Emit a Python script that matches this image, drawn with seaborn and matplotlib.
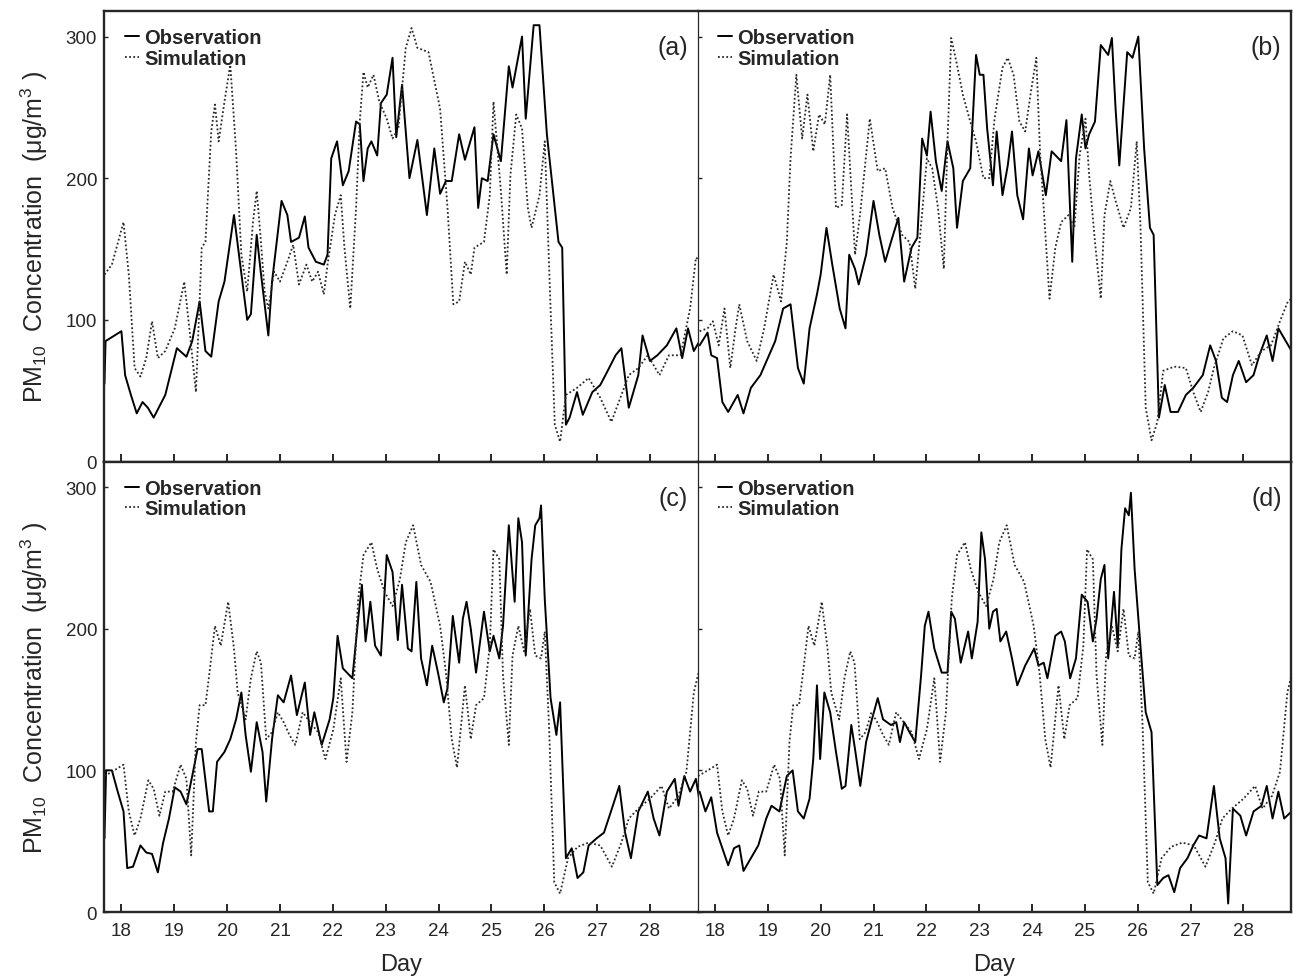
import pandas as pd
import numpy as np
import seaborn as sns
import matplotlib.pyplot as plt

# ---- data (day of month, PM10 in ug/m3) ----
day_a_obs = [17.68, 17.70, 18.0, 18.07, 18.18, 18.29, 18.4, 18.5, 18.61, 18.83, 19.05, 19.23, 19.34, 19.48, 19.59, 19.7,
             19.84, 19.95, 20.13, 20.38, 20.45, 20.56, 20.63, 20.78, 20.85, 21.03, 21.14, 21.21, 21.36, 21.47, 21.54,
             21.68, 21.83, 21.9, 21.97, 22.08, 22.19, 22.3, 22.44, 22.51, 22.58, 22.66, 22.73, 22.84, 22.91, 23.02,
             23.13, 23.2, 23.31, 23.45, 23.6, 23.78, 23.92, 24.03, 24.14, 24.25, 24.39, 24.5, 24.68, 24.75, 24.82,
             24.93, 25.04, 25.18, 25.33, 25.4, 25.47, 25.58, 25.65, 25.8, 25.91, 26.05, 26.27, 26.34, 26.41, 26.48,
             26.62, 26.73, 26.91, 27.06, 27.2, 27.35, 27.46, 27.6, 27.78, 27.86, 28.0, 28.14, 28.32, 28.5, 28.61,
             28.72, 28.83, 28.97]
pm_a_obs = [55, 85, 92, 61, 47, 34, 42, 38, 31, 47, 80, 74, 85, 113, 78, 74,
            113, 127, 174, 100, 104, 160, 136, 89, 127, 184, 174, 155, 158, 173, 151,
            141, 139, 146, 214, 226, 195, 205, 240, 238, 198, 221, 226, 216, 253, 259,
            285, 229, 266, 200, 227, 174, 221, 189, 198, 198, 231, 213, 236, 179, 200,
            198, 231, 212, 279, 264, 278, 300, 242, 308, 308, 231, 155, 151, 26, 31,
            49, 33, 49, 54, 64, 75, 80, 38, 61, 89, 71, 75, 82, 94, 73,
            94, 78, 87]

day_a_sim = [17.68, 17.82, 18.04, 18.14, 18.25, 18.36, 18.47, 18.58, 18.69, 18.83, 19.01, 19.19, 19.3, 19.41, 19.52,
             19.59, 19.7, 19.77, 19.84, 19.95, 20.06, 20.17, 20.27, 20.38, 20.49, 20.56, 20.63, 20.71, 20.78, 20.89,
             21.0, 21.14, 21.25, 21.36, 21.5, 21.61, 21.72, 21.83, 21.9, 22.04, 22.15, 22.22, 22.33, 22.44, 22.51,
             22.58, 22.66, 22.77, 22.88, 23.02, 23.13, 23.24, 23.38, 23.49, 23.6, 23.81, 24.03, 24.17, 24.28, 24.39,
             24.5, 24.61, 24.68, 24.86, 24.97, 25.04, 25.18, 25.29, 25.36, 25.47, 25.58, 25.69, 25.76, 25.91, 26.01,
             26.12, 26.2, 26.3, 26.41, 26.62, 26.84, 27.06, 27.27, 27.46, 27.6, 27.78, 27.96, 28.18, 28.36, 28.58,
             28.76, 28.87, 28.97]
pm_a_sim = [132, 139, 169, 132, 66, 60, 73, 99, 73, 78, 94, 127, 89, 49, 151,
            155, 233, 252, 226, 254, 280, 219, 146, 120, 169, 191, 160, 120, 108, 134,
            127, 141, 153, 125, 139, 127, 134, 118, 139, 174, 188, 151, 108, 179, 240,
            275, 264, 273, 254, 242, 228, 235, 292, 306, 292, 289, 249, 179, 111, 113,
            141, 132, 151, 155, 188, 254, 191, 132, 202, 245, 235, 179, 165, 188, 226,
            108, 26, 14, 47, 52, 59, 45, 28, 47, 61, 66, 75, 61, 75, 75,
            108, 144, 141]

day_b_obs = [17.71, 17.86, 17.93, 18.04, 18.14, 18.25, 18.43, 18.54, 18.68, 18.86, 19.0, 19.14, 19.29, 19.43, 19.57,
             19.68, 19.79, 19.93, 20.0, 20.11, 20.22, 20.36, 20.47, 20.54, 20.65, 20.72, 20.86, 21.0, 21.11, 21.22,
             21.33, 21.47, 21.58, 21.72, 21.83, 21.92, 22.01, 22.08, 22.18, 22.29, 22.4, 22.51, 22.58, 22.69, 22.83,
             22.94, 23.01, 23.08, 23.15, 23.26, 23.33, 23.44, 23.54, 23.62, 23.72, 23.83, 23.94, 24.01, 24.12, 24.26,
             24.37, 24.55, 24.65, 24.76, 24.83, 24.94, 25.01, 25.08, 25.19, 25.3, 25.44, 25.51, 25.58, 25.65, 25.8,
             25.9, 26.01, 26.12, 26.23, 26.3, 26.4, 26.51, 26.62, 26.76, 26.91, 27.05, 27.23, 27.37, 27.48, 27.59,
             27.69, 27.8, 27.91, 28.05, 28.19, 28.3, 28.44, 28.55, 28.66, 28.8, 28.91]
pm_b_obs = [82, 91, 75, 73, 42, 35, 47, 34, 52, 61, 73, 85, 108, 111, 66,
            55, 94, 118, 132, 165, 139, 108, 94, 146, 136, 125, 146, 184, 160, 141,
            155, 172, 127, 151, 158, 228, 216, 247, 212, 191, 226, 207, 165, 198, 207,
            287, 273, 273, 235, 195, 233, 188, 209, 233, 188, 171, 221, 202, 219, 188,
            219, 212, 241, 141, 214, 245, 221, 231, 240, 294, 287, 299, 249, 209, 289,
            285, 300, 221, 165, 160, 31, 54, 35, 35, 47, 52, 61, 82, 71, 45,
            42, 61, 71, 56, 61, 75, 89, 71, 94, 85, 78]

day_b_sim = [17.71, 17.86, 17.96, 18.07, 18.18, 18.29, 18.39, 18.46, 18.61, 18.79, 18.93, 19.11, 19.25, 19.36, 19.43,
             19.54, 19.65, 19.75, 19.86, 19.97, 20.08, 20.18, 20.29, 20.4, 20.5, 20.65, 20.75, 20.93, 21.08, 21.22,
             21.36, 21.54, 21.68, 21.79, 21.9, 22.01, 22.11, 22.22, 22.33, 22.4, 22.47, 22.58, 22.69, 22.83, 22.94,
             23.08, 23.19, 23.29, 23.44, 23.54, 23.65, 23.76, 23.87, 23.97, 24.08, 24.15, 24.22, 24.33, 24.44, 24.55,
             24.69, 24.8, 24.9, 25.01, 25.08, 25.19, 25.3, 25.37, 25.48, 25.58, 25.73, 25.87, 25.98, 26.05, 26.15,
             26.26, 26.37, 26.48, 26.69, 26.91, 27.05, 27.19, 27.33, 27.44, 27.62, 27.8, 27.98, 28.16, 28.34, 28.52,
             28.69, 28.84, 28.91]
pm_b_sim = [92, 94, 99, 82, 108, 66, 94, 111, 85, 71, 94, 132, 113, 155, 214,
            273, 228, 259, 219, 245, 238, 273, 179, 181, 245, 146, 176, 242, 205, 207,
            179, 160, 155, 122, 167, 214, 207, 179, 136, 226, 299, 280, 259, 240, 226,
            200, 200, 242, 278, 285, 273, 240, 233, 259, 285, 219, 179, 115, 151, 169,
            174, 165, 216, 242, 202, 155, 115, 174, 198, 184, 165, 179, 226, 167, 38,
            15, 28, 64, 67, 66, 49, 35, 49, 66, 87, 92, 89, 68, 78, 82,
            99, 113, 115]

day_c_obs = [17.68, 17.71, 17.82, 17.93, 18.04, 18.11, 18.22, 18.36, 18.47, 18.58, 18.69, 18.79, 18.9, 19.01, 19.12,
             19.23, 19.34, 19.44, 19.52, 19.66, 19.73, 19.81, 19.95, 20.06, 20.17, 20.27, 20.35, 20.45, 20.56, 20.67,
             20.74, 20.85, 20.96, 21.07, 21.21, 21.32, 21.47, 21.57, 21.65, 21.79, 21.94, 22.01, 22.09, 22.19, 22.37,
             22.48, 22.55, 22.62, 22.71, 22.8, 22.91, 23.02, 23.13, 23.23, 23.31, 23.42, 23.49, 23.58, 23.67, 23.78,
             23.88, 23.99, 24.1, 24.17, 24.27, 24.39, 24.46, 24.53, 24.61, 24.71, 24.86, 24.97, 25.04, 25.15, 25.22,
             25.33, 25.44, 25.51, 25.58, 25.65, 25.76, 25.83, 25.91, 25.94, 26.01, 26.12, 26.23, 26.3, 26.41, 26.52,
             26.63, 26.74, 26.84, 26.99, 27.13, 27.28, 27.42, 27.53, 27.64, 27.78, 27.96, 28.07, 28.18, 28.32, 28.47,
             28.54, 28.65, 28.76, 28.87, 28.97]
pm_c_obs = [52, 100, 100, 85, 71, 31, 32, 47, 42, 41, 28, 49, 66, 88, 85,
            76, 96, 115, 115, 71, 71, 106, 113, 122, 136, 155, 125, 99, 134, 113,
            78, 122, 153, 148, 167, 139, 162, 125, 141, 118, 136, 151, 195, 172, 165,
            207, 231, 191, 219, 188, 181, 252, 240, 192, 231, 186, 184, 233, 179, 160,
            188, 169, 148, 158, 209, 176, 207, 219, 200, 169, 212, 184, 195, 179, 202,
            273, 219, 278, 261, 181, 249, 273, 278, 287, 221, 151, 125, 148, 38, 45,
            24, 28, 47, 52, 56, 73, 89, 56, 38, 71, 85, 66, 54, 85, 94,
            75, 96, 85, 94, 71]

# the simulated series is the same in panels (c) and (d)
day_cd_sim = [17.68, 17.82, 18.04, 18.14, 18.25, 18.36, 18.51, 18.61, 18.72, 18.83, 18.97, 19.12, 19.23, 19.32, 19.41,
              19.48, 19.59, 19.66, 19.77, 19.88, 20.02, 20.13, 20.2, 20.35, 20.45, 20.56, 20.64, 20.74, 20.85, 20.96,
              21.07, 21.18, 21.29, 21.43, 21.57, 21.72, 21.86, 22.01, 22.15, 22.26, 22.37, 22.48, 22.58, 22.73, 22.84,
              22.98, 23.13, 23.27, 23.38, 23.52, 23.67, 23.85, 24.03, 24.14, 24.25, 24.35, 24.5, 24.61, 24.71, 24.86,
              24.97, 25.04, 25.15, 25.22, 25.33, 25.4, 25.51, 25.62, 25.73, 25.83, 25.94, 26.01, 26.09, 26.19, 26.3,
              26.45, 26.63, 26.84, 27.06, 27.28, 27.46, 27.6, 27.78, 28.0, 28.22, 28.36, 28.54, 28.69, 28.83, 28.94,
              29.0]
pm_cd_sim = [96, 99, 104, 71, 54, 66, 93, 87, 68, 85, 85, 104, 94, 40, 120,
             146, 146, 167, 202, 188, 219, 186, 155, 136, 165, 184, 176, 122, 127, 141,
             134, 125, 118, 141, 134, 127, 108, 129, 165, 106, 141, 221, 252, 261, 242,
             226, 216, 235, 261, 273, 245, 233, 202, 169, 122, 102, 160, 122, 146, 151,
             188, 256, 249, 167, 118, 181, 202, 184, 214, 181, 179, 198, 132, 21, 13,
             38, 46, 49, 47, 32, 49, 66, 73, 80, 89, 73, 82, 99, 155, 172,
             169]

day_d_obs = [17.71, 17.82, 17.93, 18.04, 18.14, 18.25, 18.36, 18.46, 18.54, 18.68, 18.82, 18.97, 19.07, 19.22, 19.36,
             19.47, 19.57, 19.68, 19.79, 19.86, 19.93, 19.99, 20.07, 20.18, 20.29, 20.4, 20.47, 20.58, 20.65, 20.75,
             20.86, 20.97, 21.08, 21.18, 21.33, 21.43, 21.5, 21.58, 21.68, 21.79, 21.9, 21.97, 22.04, 22.15, 22.29,
             22.4, 22.47, 22.54, 22.65, 22.79, 22.86, 22.97, 23.04, 23.11, 23.19, 23.26, 23.33, 23.4, 23.51, 23.62,
             23.72, 23.87, 24.04, 24.12, 24.22, 24.29, 24.44, 24.55, 24.62, 24.72, 24.83, 24.94, 25.05, 25.15, 25.22,
             25.3, 25.37, 25.44, 25.55, 25.62, 25.69, 25.76, 25.83, 25.87, 25.94, 26.05, 26.15, 26.26, 26.37, 26.48,
             26.58, 26.69, 26.8, 26.94, 27.05, 27.16, 27.3, 27.44, 27.55, 27.66, 27.71, 27.8, 27.94, 28.05, 28.19,
             28.34, 28.44, 28.55, 28.66, 28.77, 28.91]
pm_d_obs = [85, 71, 81, 56, 45, 33, 45, 47, 29, 38, 47, 66, 75, 71, 96,
            100, 71, 66, 80, 108, 160, 108, 155, 141, 113, 87, 89, 132, 115, 89,
            120, 136, 151, 136, 132, 134, 120, 134, 127, 120, 167, 202, 212, 186, 169,
            169, 212, 207, 176, 198, 179, 205, 268, 249, 200, 212, 214, 191, 198, 179,
            160, 174, 186, 174, 176, 165, 195, 198, 191, 165, 179, 224, 219, 191, 207,
            235, 245, 179, 226, 188, 256, 285, 280, 296, 242, 188, 141, 127, 19, 24,
            26, 14, 31, 38, 47, 54, 52, 89, 52, 38, 6, 73, 68, 54, 71,
            75, 89, 66, 85, 66, 71]

panels = [
    ("(a)", day_a_obs, pm_a_obs, day_a_sim, pm_a_sim),
    ("(b)", day_b_obs, pm_b_obs, day_b_sim, pm_b_sim),
    ("(c)", day_c_obs, pm_c_obs, day_cd_sim, pm_cd_sim),
    ("(d)", day_d_obs, pm_d_obs, day_cd_sim, pm_cd_sim),
]

sns.set_style("ticks")
plt.rcParams['font.family'] = ['Liberation Sans', 'DejaVu Sans']
plt.rcParams['mathtext.fontset'] = 'custom'
plt.rcParams['mathtext.rm'] = 'Liberation Sans'
plt.rcParams['mathtext.it'] = 'Liberation Sans'

fig, axes = plt.subplots(2, 2, figsize=(12.93, 9.79), dpi=100, sharex=True, sharey=True,
                         gridspec_kw=dict(wspace=0, hspace=0))
fig.subplots_adjust(left=0.0804, right=0.9985, top=0.9877, bottom=0.0674)

for ax, (tag, dx, vx, ds, vs) in zip(axes.flat, panels):
    obs = pd.DataFrame({"day": dx, "pm": vx})
    sim = pd.DataFrame({"day": ds, "pm": vs})
    sns.lineplot(data=obs, x="day", y="pm", color="black", lw=1.4, sort=False,
                 estimator=None, label="Observation", ax=ax)
    sns.lineplot(data=sim, x="day", y="pm", color="#2a2a2a", lw=1.3, sort=False,
                 estimator=None, linestyle=(0, (1, 1.3)), label="Simulation", ax=ax)

    ax.set_xlim(17.67, 28.9)
    ax.set_ylim(0, 318)
    ax.set_xticks(range(18, 29))
    ax.set_yticks([0, 100, 200, 300])
    ax.tick_params(axis="x", direction="in", length=6, width=1.4, labelsize=13.5, pad=7)
    ax.tick_params(axis="y", direction="in", length=3, width=1, labelsize=13.5, pad=5)
    ax.set_xlabel("")
    ax.set_ylabel("")

    for s in ax.spines.values():
        s.set_linewidth(1.7)
        s.set_visible(True)

    ax.legend(loc="upper left", bbox_to_anchor=(0.025, 0.975), frameon=False,
              handlelength=0.7, handletextpad=0.25, labelspacing=0.08,
              borderaxespad=0, borderpad=0.3,
              prop={"weight": "bold", "size": 14.5})
    ax.text(0.984, 0.92, tag, transform=ax.transAxes, ha="right", va="center", fontsize=18)

# thin divider between left and right columns
for ax in axes[:, 0]:
    ax.spines["right"].set_visible(False)
    ax.set_ylabel("PM$_{10}$  Concentration  (\u03bcg/m$^{3}$ )", fontsize=18, labelpad=11)
for ax in axes[:, 1]:
    ax.spines["left"].set_linewidth(0.9)
for ax in axes[1, :]:
    ax.set_xlabel("Day", fontsize=17, labelpad=10)

plt.savefig("out.png", dpi=100)
